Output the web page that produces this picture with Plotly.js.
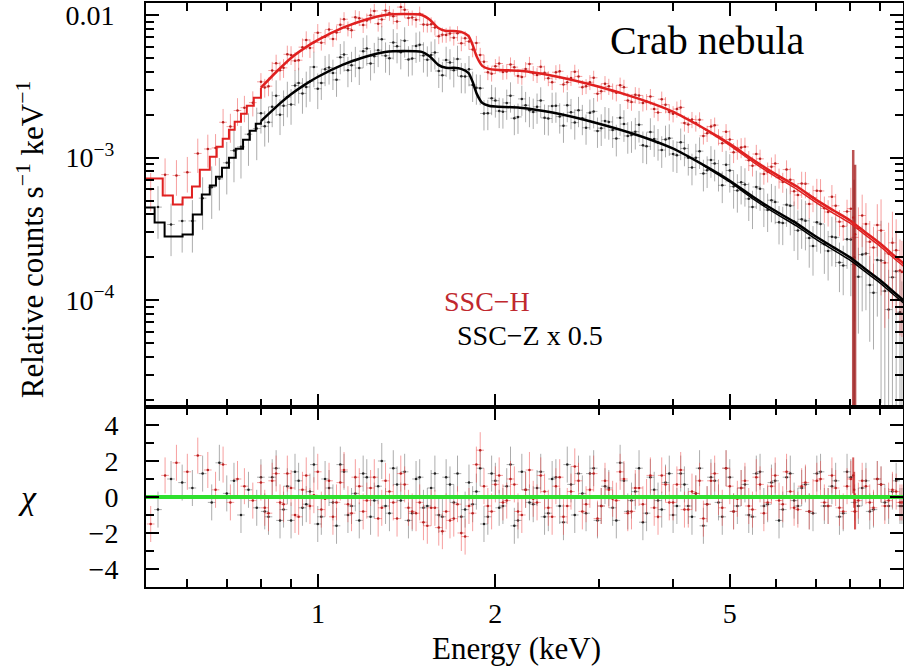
<!DOCTYPE html>
<html><head><meta charset="utf-8">
<script src="https://cdn.plot.ly/plotly-3.0.1.min.js"></script>
<style>html,body{margin:0;padding:0;background:#fff}#chart{width:904px;height:669px}</style>
</head><body><div id="chart"></div>
<script>
// ---------- SSC-H data (red), set 1 ----------
const eH = [0.52,0.55,0.575,0.60,0.625,0.65,0.67,0.69,0.71,0.73,0.75,0.775,
0.80,0.824,0.849,0.874,0.90,0.927,0.955,0.984,1.013,1.044,1.075,1.107,1.14,1.175,1.21,1.246,1.283,1.322,1.362,1.403,1.445,1.488,1.533,1.579,1.626,1.675,1.725,1.777,1.83,1.885,1.942,2.0,2.06,2.122,2.185,2.251,2.319,2.388,2.46,2.534,2.61,2.688,2.768,2.851,2.937,3.025,3.116,3.209,3.306,3.405,3.507,3.612,3.721,3.832,3.947,4.066,4.188,4.313,4.443,4.576,4.713,4.855,5.0,5.15,5.305,5.464,5.628,5.797,5.971,6.15,6.334,6.524,6.72,6.922,7.129,7.343,7.563,7.79,8.024,8.265,8.513,8.768,9.031,9.302,9.581,9.80];
const fluxH = [0.00060,0.00076,0.00075,0.00079,0.00107,0.00115,0.00117,0.00177,0.00165,0.00214,0.00224,0.00243,
0.00340,0.00317,0.00458,0.00426,0.00525,0.00482,0.00668,0.00643,0.00640,0.00792,0.00753,0.00934,0.00781,0.00950,0.00913,0.01068,0.00931,0.01034,0.00901,0.01087,0.00960,0.01022,0.00855,0.00817,0.00727,0.00742,0.00745,0.00688,0.00574,0.00525,0.00397,0.00438,0.00399,0.00450,0.00374,0.00418,0.00391,0.00433,0.00360,0.00397,0.00325,0.00361,0.00371,0.00317,0.00363,0.00292,0.00316,0.00285,0.00311,0.00245,0.00273,0.00247,0.00219,0.00257,0.00209,0.00219,0.00175,0.00185,0.00184,0.00148,0.00169,0.00126,0.00134,0.00115,0.00119,0.000878,0.000981,0.000797,0.000909,0.000675,0.000701,0.000547,0.000656,0.000525,0.000584,0.000416,0.000460,0.000330,0.000439,0.000320,0.000343,0.000234,0.000309,0.000212,0.000224,0.000158];
const relErrH = [0.30,0.30,0.28,0.28,0.27,0.26,0.25,0.24,0.23,0.22,0.21,0.20,
0.15,0.15,0.15,0.15,0.15,0.15,0.15,0.15,
0.12,0.12,0.12,0.12,0.12,0.12,0.12,0.12,0.12,0.12,0.12,0.12,0.12,0.12,0.12,0.12,0.12,0.12,0.12,0.12,0.12,0.12,0.12,0.12,0.12,0.12,0.12,0.12,0.12,0.12,0.12,0.12,0.12,0.12,0.12,0.12,0.12,
0.13,0.13,0.13,0.13,0.13,0.13,0.13,0.13,0.13,0.13,0.13,0.13,0.13,0.13,0.13,0.13,0.13,
0.16,0.16,0.16,0.16,0.16,0.16,0.16,0.16,
0.21,0.21,0.21,0.21,0.21,0.21,0.21,0.21,
0.40,0.40,0.40,0.40,
0.65,0.65,0.65,0.65];
const chiH = [-1.5,1.2,1.9,1.4,2.3,1.5,0.4,1.8,-0.3,1.0,0.6,-0.2,
0.8,-0.9,1.3,-0.4,0.5,-1.1,1.2,0.1,-0.7,0.9,-0.3,1.5,-0.9,0.6,-0.2,1.1,-0.6,0.3,-1.2,0.7,-0.8,-0.3,-1.6,-0.6,-1.9,-1.3,-0.4,-2.2,-0.9,2.6,-0.5,0.7,-0.3,1.0,-0.8,0.4,-0.1,1.2,-0.6,0.6,-1.1,0.3,0.9,-0.4,1.3,-0.5,0.4,-0.2,1.0,-0.8,0.5,0.0,-0.6,1.2,-0.3,0.7,-0.7,0.3,0.9,-0.4,1.3,-0.6,0.6,-0.1,0.9,-0.7,0.7,-0.3,1.2,-0.4,0.3,-0.7,0.8,0.0,1.0,-0.5,0.5,-0.8,1.0,-0.2,0.6,-0.6,0.7,-0.2,0.3,-0.3];

// ---------- SSC-Z x 0.5 data (black), set 1 ----------
const eZ = [0.535,0.563,0.588,0.612,0.637,0.66,0.68,0.70,0.72,0.74,0.762,0.787,
0.812,0.836,0.862,0.887,0.914,0.941,0.969,0.999,1.028,1.06,1.091,1.124,1.157,1.193,1.228,1.265,1.302,1.342,1.382,1.424,1.467,1.51,1.556,1.603,1.65,1.7,1.751,1.804,1.857,1.913,1.971,2.03,2.091,2.154,2.218,2.285,2.354,2.424,2.497,2.572,2.649,2.728,2.81,2.894,2.981,3.07,3.163,3.257,3.356,3.456,3.56,3.666,3.777,3.889,4.006,4.127,4.251,4.378,4.51,4.645,4.784,4.928,5.075,5.227,5.385,5.546,5.712,5.884,6.061,6.242,6.429,6.622,6.821,7.026,7.236,7.453,7.676,7.907,8.144,8.389,8.641,8.90,9.166,9.442,9.725];
const fluxZ = [0.00045,0.00034,0.00036,0.00036,0.00052,0.00062,0.00071,0.00092,0.00112,0.00119,0.00146,0.00160,
0.00166,0.00227,0.00200,0.00266,0.00320,0.00282,0.00342,0.00304,0.00417,0.00392,0.00505,0.00410,0.00482,0.00558,0.00457,0.00567,0.00518,0.00641,0.00547,0.00487,0.00607,0.00519,0.00525,0.00405,0.00483,0.00409,0.00372,0.00416,0.00309,0.00204,0.00261,0.00212,0.00242,0.00189,0.00258,0.00215,0.00227,0.00190,0.00230,0.00194,0.00233,0.00176,0.00189,0.00206,0.00154,0.00181,0.00156,0.00190,0.00142,0.00152,0.00122,0.00151,0.00127,0.00134,0.00106,0.00128,0.000998,0.00100,0.000773,0.000963,0.000772,0.000893,0.000627,0.000671,0.000514,0.000623,0.000466,0.000503,0.000352,0.000467,0.000357,0.000370,0.000273,0.000353,0.000247,0.000279,0.000184,0.000268,0.000178,0.000209,0.000128,0.000192,0.000116,0.000145,0.0000825];
const relErrZ = [0.40,0.40,0.40,0.40,0.40,0.40,0.40,0.40,0.40,0.40,0.40,0.40,
0.28,0.28,0.28,0.28,0.28,0.28,0.28,0.28,
0.24,0.24,0.24,0.24,0.24,0.24,0.24,0.24,0.24,0.24,0.24,0.24,0.24,0.24,0.24,0.24,0.24,0.24,0.24,0.24,0.24,0.24,0.24,0.24,0.24,0.24,0.24,0.24,0.24,0.24,0.24,0.24,0.24,0.24,0.24,0.24,0.24,
0.25,0.25,0.25,0.25,0.25,0.25,0.25,0.25,0.25,0.25,0.25,0.25,0.25,0.25,0.25,0.25,0.25,
0.30,0.30,0.30,0.30,0.30,0.30,0.30,0.30,
0.38,0.38,0.38,0.38,0.38,0.38,0.38,0.38,
0.60,0.60,0.60,0.60,
0.90,0.90,0.90];
const chiZ = [-0.7,1.0,0.8,0.5,1.3,-0.3,1.9,0.2,0.9,-1.0,0.4,-0.6,
-0.8,1.1,-1.3,0.6,1.4,-0.6,0.3,-1.5,1.0,-0.3,1.8,-1.0,0.2,1.3,-1.1,0.6,-0.5,1.6,-0.2,-1.3,1.0,-0.6,0.5,-1.0,1.1,-0.3,-1.1,0.8,0.3,-1.5,1.3,-0.6,0.6,-1.6,1.4,-0.3,0.5,-1.1,1.0,-0.5,1.8,-1.0,0.2,1.3,-1.3,0.6,-0.6,1.9,-0.8,0.3,-1.4,1.1,-0.2,0.8,-1.0,1.3,-0.5,0.2,-1.6,1.1,-0.3,1.6,-0.8,0.5,-1.0,1.3,-0.5,0.8,-1.3,1.1,-0.2,0.5,-0.8,1.3,-0.5,0.6,-1.1,1.4,-0.3,0.5,-0.8,1.0,-0.3,0.3,-0.5];

// ---------- set 2 (interleaved bins) ----------
// red set 2 sits on the black grid bins (eZ from index 12), black set 2 on the red grid bins (eH from index 12)
const fluxH2 = [0.00310,0.00408,0.00409,0.00530,0.00477,0.00595,0.00588,0.00751,0.00703,0.00679,0.00853,0.00804,0.00965,0.00850,0.00994,0.00869,0.01077,0.00978,0.01136,0.00952,0.00926,0.00859,0.00860,0.00710,0.00725,0.00693,0.00633,0.00653,0.00637,0.00470,0.00388,0.00457,0.00402,0.00431,0.00368,0.00454,0.00379,0.00394,0.00338,0.00403,0.00337,0.00400,0.00312,0.00338,0.00281,0.00330,0.00293,0.00322,0.00252,0.00276,0.00242,0.00268,0.00207,0.00235,0.00203,0.00225,0.00171,0.00175,0.00142,0.00165,0.00140,0.00152,0.00109,0.00118,0.000959,0.00106,0.000769,0.000864,0.000722,0.000825,0.000581,0.000658,0.000473,0.000587,0.000441,0.000531,0.000355,0.000419,0.000276,0.000393,0.000257,0.000337,0.000183,0.000253,0.000162];
const chiH2 = [-0.6,0.9,-0.3,1.3,-1.0,0.4,-0.5,1.4,-0.1,-1.1,0.8,-0.4,1.1,-0.8,0.5,-1.2,0.9,-0.3,1.3,-0.6,-0.9,-1.4,-0.6,-1.7,-0.8,-1.2,-2.0,-0.5,1.8,0.6,-0.8,1.2,-0.2,0.7,-1.0,1.5,-0.3,0.3,-1.1,1.1,-0.5,1.7,-0.8,0.4,-1.2,0.9,-0.1,1.4,-0.9,0.5,-0.4,1.2,-1.1,0.7,-0.3,1.5,-0.7,0.2,-1.2,0.9,0.0,1.6,-0.8,0.5,-0.5,1.1,-0.9,0.6,-0.2,1.4,-0.6,0.6,-0.8,0.9,-0.3,1.2,-0.6,0.6,-0.8,0.9,-0.3,1.0,-0.5,0.4,-0.3];
const fluxZ2 = [0.00205,0.00177,0.00272,0.00231,0.00236,0.00333,0.00313,0.00432,0.00334,0.00428,0.00351,0.00528,0.00445,0.00425,0.00581,0.00514,0.00676,0.00498,0.00603,0.00661,0.00496,0.00618,0.00486,0.00545,0.00378,0.00464,0.00491,0.00371,0.00323,0.00307,0.00205,0.00251,0.00210,0.00272,0.00193,0.00233,0.00209,0.00251,0.00188,0.00231,0.00167,0.00208,0.00215,0.00162,0.00211,0.00161,0.00178,0.00136,0.00172,0.00144,0.00170,0.00120,0.00135,0.00113,0.00137,0.00104,0.00116,0.000853,0.00111,0.000817,0.000909,0.000640,0.000813,0.000588,0.000648,0.000451,0.000605,0.000430,0.000488,0.000348,0.000460,0.000309,0.000361,0.000240,0.000343,0.000222,0.000276,0.000175,0.000267,0.000146,0.000213,0.000113,0.000190,0.0000861,0.000160,0.0000714];
const chiZ2 = [1.1,-1.1,1.6,-0.7,-1.3,0.9,-0.4,1.8,-1.1,0.5,-1.6,1.4,-0.5,-1.3,1.1,-0.2,2.0,-0.9,0.7,1.4,-0.9,1.1,-0.5,1.3,-1.1,0.7,1.3,-0.7,-0.4,1.6,-1.1,0.9,-0.5,1.8,-1.3,0.4,-0.4,1.4,-0.9,1.1,-1.4,0.7,1.3,-0.9,1.6,-0.5,0.5,-1.3,0.9,-0.2,1.6,-0.9,0.4,-0.7,1.3,-0.5,0.7,-1.1,1.6,-0.4,0.9,-1.1,1.1,-0.5,0.7,-1.1,1.4,-0.4,0.9,-0.7,1.3,-0.5,0.7,-0.9,1.4,-0.5,0.9,-0.9,1.1,-0.5,0.9,-0.7,0.7,-0.5,0.9,-0.5];

// ---------- spike near 8.1 keV ----------
const spikeEH = [8.10,8.16];
const spikeFluxH = [0.00038,0.00029];
const spikeUpH = [0.00075,0.00060];
const spikeDnH = [0.000369,0.000281];
const spikeChiH = [1.2,-0.8];
const spikeEZ = [8.13];
const spikeFluxZ = [0.00020];
const spikeUpZ = [0.00050];
const spikeDnZ = [0.000194];
const spikeChiZ = [0.4];

// ---------- folded models ----------
const stepEH = [0.50,0.545,0.567,0.589,0.611,0.630,0.655,0.673,0.689,0.706,0.722,0.740,0.757,0.778,0.80];
const stepH  = [0.000713,0.000542,0.000469,0.000525,0.000627,0.000824,0.001016,0.001194,0.001358,0.00157,0.001786,0.002032,0.00231,0.00263,0.00309];
const stepEZ = [0.50,0.528,0.549,0.589,0.613,0.635,0.655,0.671,0.687,0.706,0.725,0.746,0.766,0.784,0.80];
const stepZ  = [0.000447,0.000351,0.00028,0.000289,0.0004,0.000551,0.000637,0.000736,0.000851,0.001,0.001156,0.001336,0.001545,0.00173,0.0018];
const modelE = [0.80,0.85,0.90,0.95,1.0,1.1,1.2,1.3,1.4,1.5,1.55,1.6,1.65,1.7,1.75,1.8,1.83,1.86,1.9,1.95,2.0,2.2,2.5,3.0,3.5,4.0,4.5,5.0,5.5,6.0,6.5,7.0,7.5,8.0,8.5,9.0,9.5,10];
const modelH = [0.00309,0.0040,0.0050,0.00588,0.00669,0.00811,0.00923,0.0100,0.01016,0.0100,0.00923,0.00811,0.00773,0.00773,0.00761,0.00713,0.00617,0.00509,0.0044,0.00419,0.00413,0.00406,0.00375,0.00314,0.00259,0.0021,0.00162,0.00125,0.000953,0.00076,0.000627,0.000508,0.000426,0.000363,0.000299,0.00025,0.000206,0.000173];
const modelZ = [0.0018,0.00228,0.00278,0.00325,0.00369,0.00447,0.00508,0.00551,0.0056,0.00551,0.00509,0.00447,0.00426,0.00426,0.00419,0.00393,0.0034,0.0028,0.00242,0.00231,0.00228,0.00224,0.00207,0.00173,0.00143,0.00116,0.000893,0.000689,0.000525,0.000419,0.000345,0.00028,0.000235,0.0002,0.000165,0.000138,0.000114,0.0000953];
const model2E = [4.5,5.0,5.5,6.0,6.5,7.0,7.5,8.0,8.5,9.0,9.5,10];
const model2H = [0.00161,0.00122,0.000920,0.000730,0.000600,0.000486,0.000407,0.000347,0.000286,0.000239,0.000197,0.000165];
const model2Z = [0.000888,0.000675,0.000508,0.000403,0.000331,0.000268,0.000225,0.000191,0.000158,0.000132,0.000109,0.0000912];
const zeroE = [0.5,10];
const zeroChi = [0,0];

// ---------- axis ticks ----------
const xTickVals = [1,2,5];
const xTickText = ['1','2','5'];
const xMinor = [0.6,0.7,0.8,0.9,3,4,6,7,8,9];
const yTickVals = [1e-4,1e-3,1e-2];
const yTickText = ['10<sup>−4</sup>','10<sup>−3</sup>','0.01'];
const yMinor = [2e-5,3e-5,4e-5,5e-5,6e-5,7e-5,8e-5,9e-5,2e-4,3e-4,4e-4,5e-4,6e-4,7e-4,8e-4,9e-4,2e-3,3e-3,4e-3,5e-3,6e-3,7e-3,8e-3,9e-3];
const chiTickVals = [-4,-2,0,2,4];
const chiTickText = ['−4','−2','0','2','4'];
const chiMinor = [-3,-1,1,3];

const F = 'Liberation Serif, Times New Roman, Times, serif';
const absErr = (v, r) => v.map((x, i) => x * r[i]);

const eH2 = eZ.slice(12);
const relErrH2 = relErrH.slice(12, 12 + eH2.length);
const eZ2 = eH.slice(12);
const relErrZ2 = relErrZ.slice(12).concat([0.90]);

const redBar = 'rgba(238,80,80,0.55)';
const grayBar = 'rgba(70,70,70,0.45)';

function dataTrace(x, y, rel, bar, dot, ax, ay) {
  return {x:x, y:y, xaxis:ax, yaxis:ay, type:'scatter', mode:'markers',
    marker:{size:2.5, color:dot},
    error_y:{type:'data', array:absErr(y, rel), color:bar, thickness:1, width:0},
    error_x:{type:'percent', value:1.5, color:bar, thickness:1, width:0}};
}
function chiTrace(x, y, bar, dot) {
  return {x:x, y:y, xaxis:'x2', yaxis:'y2', type:'scatter', mode:'markers',
    marker:{size:2.5, color:dot},
    error_y:{type:'constant', value:1, color:bar, thickness:1, width:0},
    error_x:{type:'percent', value:1.5, color:bar, thickness:1, width:0}};
}

const traces = [
  dataTrace(eZ, fluxZ, relErrZ, grayBar, '#222', 'x', 'y'),
  dataTrace(eZ2, fluxZ2, relErrZ2, grayBar, '#222', 'x', 'y'),
  dataTrace(eH, fluxH, relErrH, redBar, '#b82020', 'x', 'y'),
  dataTrace(eH2, fluxH2, relErrH2, redBar, '#b82020', 'x', 'y'),
  {x:spikeEZ, y:spikeFluxZ, xaxis:'x', yaxis:'y', type:'scatter', mode:'markers',
   marker:{size:2.5, color:'#222'},
   error_y:{type:'data', symmetric:false, array:spikeUpZ, arrayminus:spikeDnZ, color:'rgba(90,90,90,0.7)', thickness:2, width:0}},
  {x:spikeEH, y:spikeFluxH, xaxis:'x', yaxis:'y', type:'scatter', mode:'markers',
   marker:{size:2.5, color:'#b82020'},
   error_y:{type:'data', symmetric:false, array:spikeUpH, arrayminus:spikeDnH, color:'rgba(170,40,40,0.8)', thickness:2.5, width:0}},
  {x:stepEZ, y:stepZ, xaxis:'x', yaxis:'y', mode:'lines', line:{shape:'hv', color:'#000', width:2}},
  {x:modelE, y:modelZ, xaxis:'x', yaxis:'y', mode:'lines', line:{shape:'spline', smoothing:0.6, color:'#000', width:2.5}},
  {x:model2E, y:model2Z, xaxis:'x', yaxis:'y', mode:'lines', line:{shape:'spline', smoothing:0.6, color:'#000', width:1.5}},
  {x:stepEH, y:stepH, xaxis:'x', yaxis:'y', mode:'lines', line:{shape:'hv', color:'#e02020', width:2}},
  {x:modelE, y:modelH, xaxis:'x', yaxis:'y', mode:'lines', line:{shape:'spline', smoothing:0.6, color:'#e02020', width:2.5}},
  {x:model2E, y:model2H, xaxis:'x', yaxis:'y', mode:'lines', line:{shape:'spline', smoothing:0.6, color:'#e02020', width:1.5}},
  // residuals
  chiTrace(eZ, chiZ, grayBar, '#222'),
  chiTrace(eZ2, chiZ2, grayBar, '#222'),
  chiTrace(eH, chiH, redBar, '#b82020'),
  chiTrace(eH2, chiH2, redBar, '#b82020'),
  {x:spikeEZ.concat(spikeEH), y:spikeChiZ.concat(spikeChiH), xaxis:'x2', yaxis:'y2', type:'scatter', mode:'markers',
   marker:{size:2.5, color:'#b82020'},
   error_y:{type:'constant', value:1, color:'rgba(200,40,40,0.75)', thickness:2, width:0}},
  {x:zeroE, y:zeroChi, xaxis:'x2', yaxis:'y2', mode:'lines', line:{color:'#2fe02f', width:4}}
];

const tickFont = {family:F, size:28, color:'#000'};
const tickCommon = {ticks:'inside', tickwidth:2, tickcolor:'#000', showline:true, linewidth:2, linecolor:'#000',
  mirror:'ticks', showgrid:false, zeroline:false, ticklabeloverflow:'allow', tickfont:tickFont};

const layout = {
  width:904, height:669,
  margin:{l:146, r:1, t:3, b:82},
  paper_bgcolor:'#fff', plot_bgcolor:'#fff', showlegend:false,
  font:{family:F, color:'#000', size:28},
  xaxis:Object.assign({}, tickCommon, {type:'log', range:[-0.292,0.993], anchor:'y', tickvals:xTickVals, ticktext:xTickText,
    showticklabels:false, ticklen:13,
    minor:{tickvals:xMinor, ticks:'inside', ticklen:8, tickwidth:2, tickcolor:'#000', showgrid:false}}),
  yaxis:Object.assign({}, tickCommon, {type:'log', domain:[0.30822,1], range:[-4.748,-1.916], anchor:'x',
    tickvals:yTickVals, ticktext:yTickText, ticklen:13, ticklabelstandoff:24,
    minor:{tickvals:yMinor, ticks:'inside', ticklen:8, tickwidth:2, tickcolor:'#000', showgrid:false}}),
  xaxis2:Object.assign({}, tickCommon, {type:'log', range:[-0.292,0.993], anchor:'y2', tickvals:xTickVals, ticktext:xTickText,
    ticklen:13, ticklabelstandoff:0,
    minor:{tickvals:xMinor, ticks:'inside', ticklen:8, tickwidth:2, tickcolor:'#000', showgrid:false}}),
  yaxis2:Object.assign({}, tickCommon, {domain:[0,0.30822], range:[-5,5], anchor:'x2',
    tickvals:chiTickVals, ticktext:chiTickText, ticklen:13, ticklabelstandoff:20,
    minor:{tickvals:chiMinor, ticks:'inside', ticklen:8, tickwidth:2, tickcolor:'#000', showgrid:false}}),
  annotations:[
    {xref:'paper', yref:'paper', x:-0.1532, y:0.594, text:'Relative counts s<sup>−1</sup> keV<sup>−1</sup>', textangle:-90,
     showarrow:false, font:{family:F, size:31, color:'#000'}, xanchor:'center', yanchor:'middle'},
    {xref:'paper', yref:'paper', x:-0.1559, y:0.154, text:'<i>χ</i>', showarrow:false,
     font:{family:F, size:34, color:'#000'}, xanchor:'center', yanchor:'middle'},
    {xref:'paper', yref:'paper', x:0.4888, y:-0.1045, text:'Energy (keV)', showarrow:false,
     font:{family:F, size:31, color:'#000'}, xanchor:'center', yanchor:'middle'},
    {xref:'paper', yref:'paper', x:0.7418, y:0.9366, text:'Crab nebula', showarrow:false,
     font:{family:F, size:40, color:'#000'}, xanchor:'center', yanchor:'middle'},
    {xref:'paper', yref:'paper', x:0.4505, y:0.4897, text:'SSC−H', showarrow:false,
     font:{family:F, size:28, color:'#c0282e'}, xanchor:'center', yanchor:'middle'},
    {xref:'paper', yref:'paper', x:0.5073, y:0.4315, text:'SSC−Z x 0.5', showarrow:false,
     font:{family:F, size:28, color:'#000'}, xanchor:'center', yanchor:'middle'}
  ]
};

Plotly.newPlot('chart', traces, layout, {displayModeBar:false, staticPlot:true});
</script></body></html>
